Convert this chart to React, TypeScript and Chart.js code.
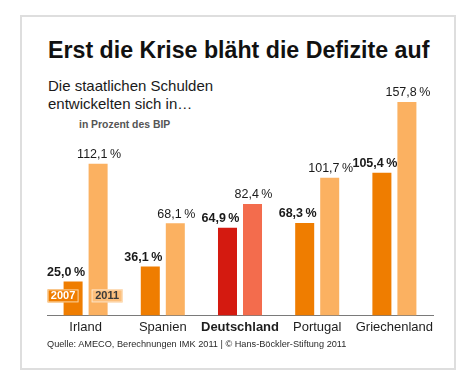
import React, { useEffect, useRef } from "react";
import { Chart, registerables } from "chart.js";
Chart.register(...registerables);

const categories = ["Irland", "Spanien", "Deutschland", "Portugal", "Griechenland"];
const years = ["2007", "2011"];
const values2007 = [25.0, 36.1, 64.9, 68.3, 105.4];
const values2011 = [112.1, 68.1, 82.4, 101.7, 157.8];
const highlightIndex = 2;

const FONT = '"Liberation Sans", Arial, Helvetica, sans-serif';
const ORANGE = "#ef7d00";
const LIGHT = "#fbb161";
const RED = "#d41a10";
const CORAL = "#f36c4d";

const fmt = (v: number) => v.toFixed(1).replace(".", ",") + "\u2009%";

const labelPlugin = {
  id: "valueLabels",
  afterDatasetsDraw(chart: any) {
    const ctx = chart.ctx;
    chart.data.datasets.forEach((ds: any, di: number) => {
      const meta = chart.getDatasetMeta(di);
      meta.data.forEach((bar: any, i: number) => {
        const v = ds.data[i];
        ctx.save();
        ctx.font = `${di === 0 ? "bold " : ""}12.5px ${FONT}`;
        ctx.fillStyle = "#1a1a1a";
        ctx.textAlign = "center";
        ctx.textBaseline = "bottom";
        ctx.fillText(fmt(v), bar.x + (di === 0 ? -7 : 1), bar.y - 3);
        ctx.restore();
      });
    });
    const base = chart.scales.y.getPixelForValue(0);
    const b0 = chart.getDatasetMeta(0).data[0];
    const b1 = chart.getDatasetMeta(1).data[0];
    const boxes = [
      { x: b0.x - 10, fill: ORANGE, stroke: "#fcd6a4", text: "#ffffff", label: years[0] },
      { x: b1.x + 9, fill: "#fcbf7c", stroke: "#fde2c0", text: "#3a3a3a", label: years[1] },
    ];
    boxes.forEach((b) => {
      const w = 31, h = 13;
      const cy = base - 19.5;
      ctx.save();
      ctx.fillStyle = b.fill;
      ctx.fillRect(b.x - w / 2, cy - h / 2, w, h);
      ctx.strokeStyle = b.stroke;
      ctx.lineWidth = 1;
      ctx.strokeRect(b.x - w / 2 + 0.5, cy - h / 2 + 0.5, w - 1, h - 1);
      ctx.fillStyle = b.text;
      ctx.font = `bold 11px ${FONT}`;
      ctx.textAlign = "center";
      ctx.textBaseline = "middle";
      ctx.fillText(b.label, b.x, cy + 0.5);
      ctx.restore();
    });
  },
};

export default function App() {
  const ref = useRef<HTMLCanvasElement>(null);
  useEffect(() => {
    if (!ref.current) return;
    const chart = new Chart(ref.current, {
      type: "bar",
      data: {
        labels: categories,
        datasets: [
          {
            label: years[0],
            data: values2007,
            backgroundColor: values2007.map((_, i) => (i === highlightIndex ? RED : ORANGE)),
            categoryPercentage: 0.648,
            barPercentage: 0.76,
          },
          {
            label: years[1],
            data: values2011,
            backgroundColor: values2011.map((_, i) => (i === highlightIndex ? CORAL : LIGHT)),
            categoryPercentage: 0.648,
            barPercentage: 0.76,
          },
        ],
      },
      options: {
        responsive: false,
        maintainAspectRatio: false,
        animation: false,
        layout: { padding: { left: 47, right: 37, top: 85.5, bottom: 51 } },
        plugins: { legend: { display: false }, tooltip: { enabled: false }, title: { display: false } },
        scales: {
          x: {
            grid: { display: false, drawTicks: false },
            border: { display: true, color: "#7a7a7a", width: 1 },
            ticks: {
              padding: 4,
              maxRotation: 0,
              minRotation: 0,
              autoSkip: false,
              color: "#1e1e1e",
              font: (c: any) => ({
                family: FONT,
                size: 13,
                weight: c.index === highlightIndex ? "bold" : "normal",
              }),
            },
          },
          y: { display: false, min: 0, max: 170 },
        },
      },
      plugins: [labelPlugin],
    });
    return () => chart.destroy();
  }, []);

  return (
    <div style={{ position: "absolute", left: 0, top: 0, width: 470, height: 390, background: "#fff", fontFamily: FONT }}>
      <div
        style={{
          position: "absolute",
          left: 20,
          top: 15,
          width: 436,
          height: 355,
          border: "2px solid #dedede",
          boxSizing: "border-box",
        }}
      />
      <div style={{ position: "absolute", left: 48, top: 38, fontSize: 23.2, lineHeight: "24px", fontWeight: "bold", color: "#111", whiteSpace: "nowrap" }}>
        Erst die Krise bläht die Defizite auf
      </div>
      <div style={{ position: "absolute", left: 48, top: 77, fontSize: 15, lineHeight: "18px", color: "#1a1a1a", whiteSpace: "nowrap" }}>
        Die staatlichen Schulden
        <br />
        entwickelten sich in…
      </div>
      <div style={{ position: "absolute", left: 79, top: 119, fontSize: 10.4, lineHeight: "12px", fontWeight: "bold", color: "#555", whiteSpace: "nowrap" }}>
        in Prozent des BIP
      </div>
      <canvas ref={ref} width={470} height={390} style={{ position: "absolute", left: 0, top: 0 }} />
      <div style={{ position: "absolute", left: 47, top: 338, fontSize: 9.2, lineHeight: "12px", color: "#2a2a2a", whiteSpace: "nowrap" }}>
        Quelle: AMECO, Berechnungen IMK 2011 | © Hans-Böckler-Stiftung 2011
      </div>
    </div>
  );
}
